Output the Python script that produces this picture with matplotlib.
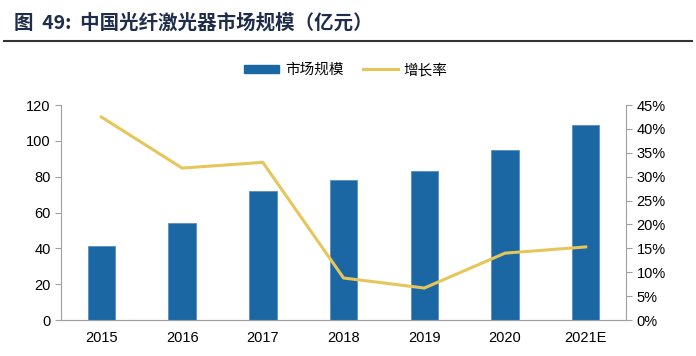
import matplotlib.pyplot as plt
from matplotlib.lines import Line2D
import numpy as np

plt.rcParams['font.family'] = ['Liberation Sans', 'Noto Sans CJK SC']

years = ['2015', '2016', '2017', '2018', '2019', '2020', '2021E']
market = [41.3, 54.2, 71.8, 78.0, 83.0, 94.8, 109.0]
growth = [42.5, 31.8, 33.0, 8.8, 6.7, 14.0, 15.3]

bar_color = '#1a67a3'
line_color = '#e6c65a'

fig = plt.figure(figsize=(6.96, 3.56), dpi=100)
ax = fig.add_axes([0.0876, 0.101, 0.812, 0.604])
ax2 = ax.twinx()

x = np.arange(len(years))
bars = ax.bar(x, market, width=0.34, color=bar_color, edgecolor='#5b8fbf', linewidth=0.6, zorder=2)
line, = ax2.plot(x, growth, color=line_color, lw=2.2, zorder=3)
ax.set_zorder(ax2.get_zorder() - 1)
ax2.patch.set_visible(False)

ax.set_xlim(-0.5, 6.5)
ax.set_ylim(0, 120)
ax.set_yticks(np.arange(0, 121, 20))
ax2.set_ylim(0, 45)
ax2.set_yticks(np.arange(0, 46, 5))
ax2.set_yticklabels([f'{v}%' for v in range(0, 46, 5)])
ax.set_xticks(x)
ax.set_xticklabels(years)

for a in (ax, ax2):
    a.spines['top'].set_visible(False)
    a.spines['left'].set_color('#a0a0a0')
    a.spines['right'].set_color('#a0a0a0')
    a.spines['bottom'].set_color('#a0a0a0')
    a.tick_params(labelsize=10.5, colors='#a0a0a0', labelcolor='black', length=4)
ax.spines['right'].set_visible(False)
ax2.spines['left'].set_visible(False)
ax.tick_params(axis='x', length=0, pad=8)

handles = [plt.Rectangle((0, 0), 1, 1, color=bar_color),
           Line2D([], [], color=line_color, lw=2.2)]
fig.legend(handles, ['市场规模', '增长率'], loc='center', bbox_to_anchor=(0.497, 0.803),
           ncol=2, frameon=False, handlelength=2.4, handleheight=0.55, handletextpad=0.4,
           columnspacing=1.3, prop={'family': ['Noto Sans CJK SC'], 'size': 10.5})

fig.text(0.02, 0.936, '图  49:  中国光纤激光器市场规模（亿元）', fontsize=14, fontweight='bold',
         color='#1f2d4a', family=['Noto Sans CJK SC'], va='center')
fig.add_artist(Line2D([0.006, 0.994], [0.885, 0.885], color='#333333', lw=1.5))

fig.savefig('out.png', dpi=100)
plt.close()
